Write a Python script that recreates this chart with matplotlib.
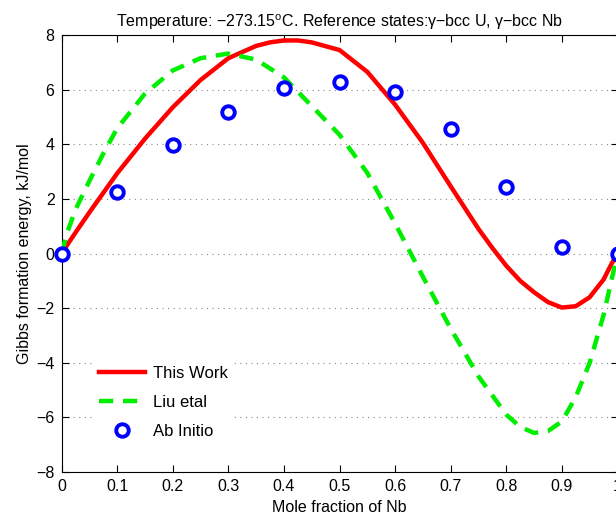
import matplotlib.pyplot as plt
import numpy as np

plt.rcParams['font.family'] = ['Liberation Sans', 'DejaVu Sans']
plt.rcParams['mathtext.fontset'] = 'custom'
plt.rcParams['mathtext.rm'] = 'Liberation Sans'

# ---- data ----
x_curve = [0.0, 0.025, 0.05, 0.1, 0.15, 0.2, 0.25, 0.3, 0.35, 0.375, 0.4, 0.425, 0.45, 0.5,
           0.55, 0.6, 0.65, 0.7, 0.725, 0.75, 0.775, 0.8, 0.825, 0.85, 0.875, 0.9,
           0.925, 0.95, 0.975, 0.99, 1.0]
this_work = [0.0, 0.76, 1.5, 2.93, 4.2, 5.35, 6.35, 7.15, 7.6, 7.73, 7.8, 7.8, 7.73, 7.45,
             6.65, 5.45, 4.05, 2.46, 1.68, 0.9, 0.2, -0.45, -1.0, -1.42, -1.78, -1.98,
             -1.93, -1.6, -0.95, -0.35, 0.0]

x_liu = [0.0, 0.01, 0.025, 0.05, 0.075, 0.1, 0.15, 0.2, 0.25, 0.3, 0.35, 0.4, 0.45, 0.5,
         0.55, 0.6, 0.65, 0.7, 0.75, 0.8, 0.825, 0.85, 0.875, 0.9, 0.925, 0.95, 0.975, 1.0]
liu = [0.0, 0.75, 1.6, 2.65, 3.65, 4.58, 5.85, 6.7, 7.15, 7.32, 7.1, 6.45, 5.4, 4.35,
       2.95, 1.1, -0.85, -2.75, -4.5, -5.9, -6.35, -6.57, -6.5, -6.15, -5.25, -4.0, -2.25, 0.0]

x_ab = [0.0, 0.1, 0.2, 0.3, 0.4, 0.5, 0.6, 0.7, 0.8, 0.9, 1.0]
ab_initio = [0.0, 2.26, 3.97, 5.19, 6.05, 6.29, 5.93, 4.56, 2.44, 0.25, 0.0]

fig = plt.figure(figsize=(6.16, 5.19), dpi=100)
ax = fig.add_axes([61.5 / 616, 47.0 / 519, 556.0 / 616, 437.0 / 519])

ax.plot(x_curve, this_work, color='red', lw=3.2, label='This Work', zorder=3)
ax.plot(x_liu, liu, color='#00ee00', lw=3.2, ls=(0, (3.2, 2.2)), label='Liu etal', zorder=3)
ax.plot(x_ab, ab_initio, 'o', mfc='white', mec='blue', mew=2.8, ms=9,
        label='Ab Initio', zorder=4, clip_on=False)

ax.set_xlim(0, 1)
ax.set_ylim(-8, 8)
ax.set_xticks(np.arange(0, 1.01, 0.1))
ax.set_xticklabels(['0', '0.1', '0.2', '0.3', '0.4', '0.5', '0.6', '0.7', '0.8', '0.9', '1'])
ax.set_yticks(np.arange(-8, 9, 2))
ax.tick_params(direction='in', top=True, right=True, length=5, labelsize=11.5, pad=5)
ax.yaxis.grid(True, ls=(0, (1, 4)), color='#888888', lw=0.8)

ax.set_xlabel('Mole fraction of Nb', fontsize=11.5, labelpad=4)
ax.set_ylabel('Gibbs formation energy, kJ/mol', fontsize=11.5, labelpad=3)
ax.set_title('Temperature: \u2212273.15$^{\\rm o}$C. Reference states:\u03b3\u2212bcc U, \u03b3\u2212bcc Nb',
             fontsize=11.5, pad=6)

leg = ax.legend(loc='lower left', bbox_to_anchor=(0.055, 0.06), frameon=True, fontsize=12,
                handlelength=2.8, handletextpad=0.45, labelspacing=0.85, borderaxespad=0)
leg.get_frame().set_edgecolor('none')
leg.get_frame().set_facecolor('white')
leg.get_frame().set_alpha(1)

fig.savefig('out.png', dpi=100)
